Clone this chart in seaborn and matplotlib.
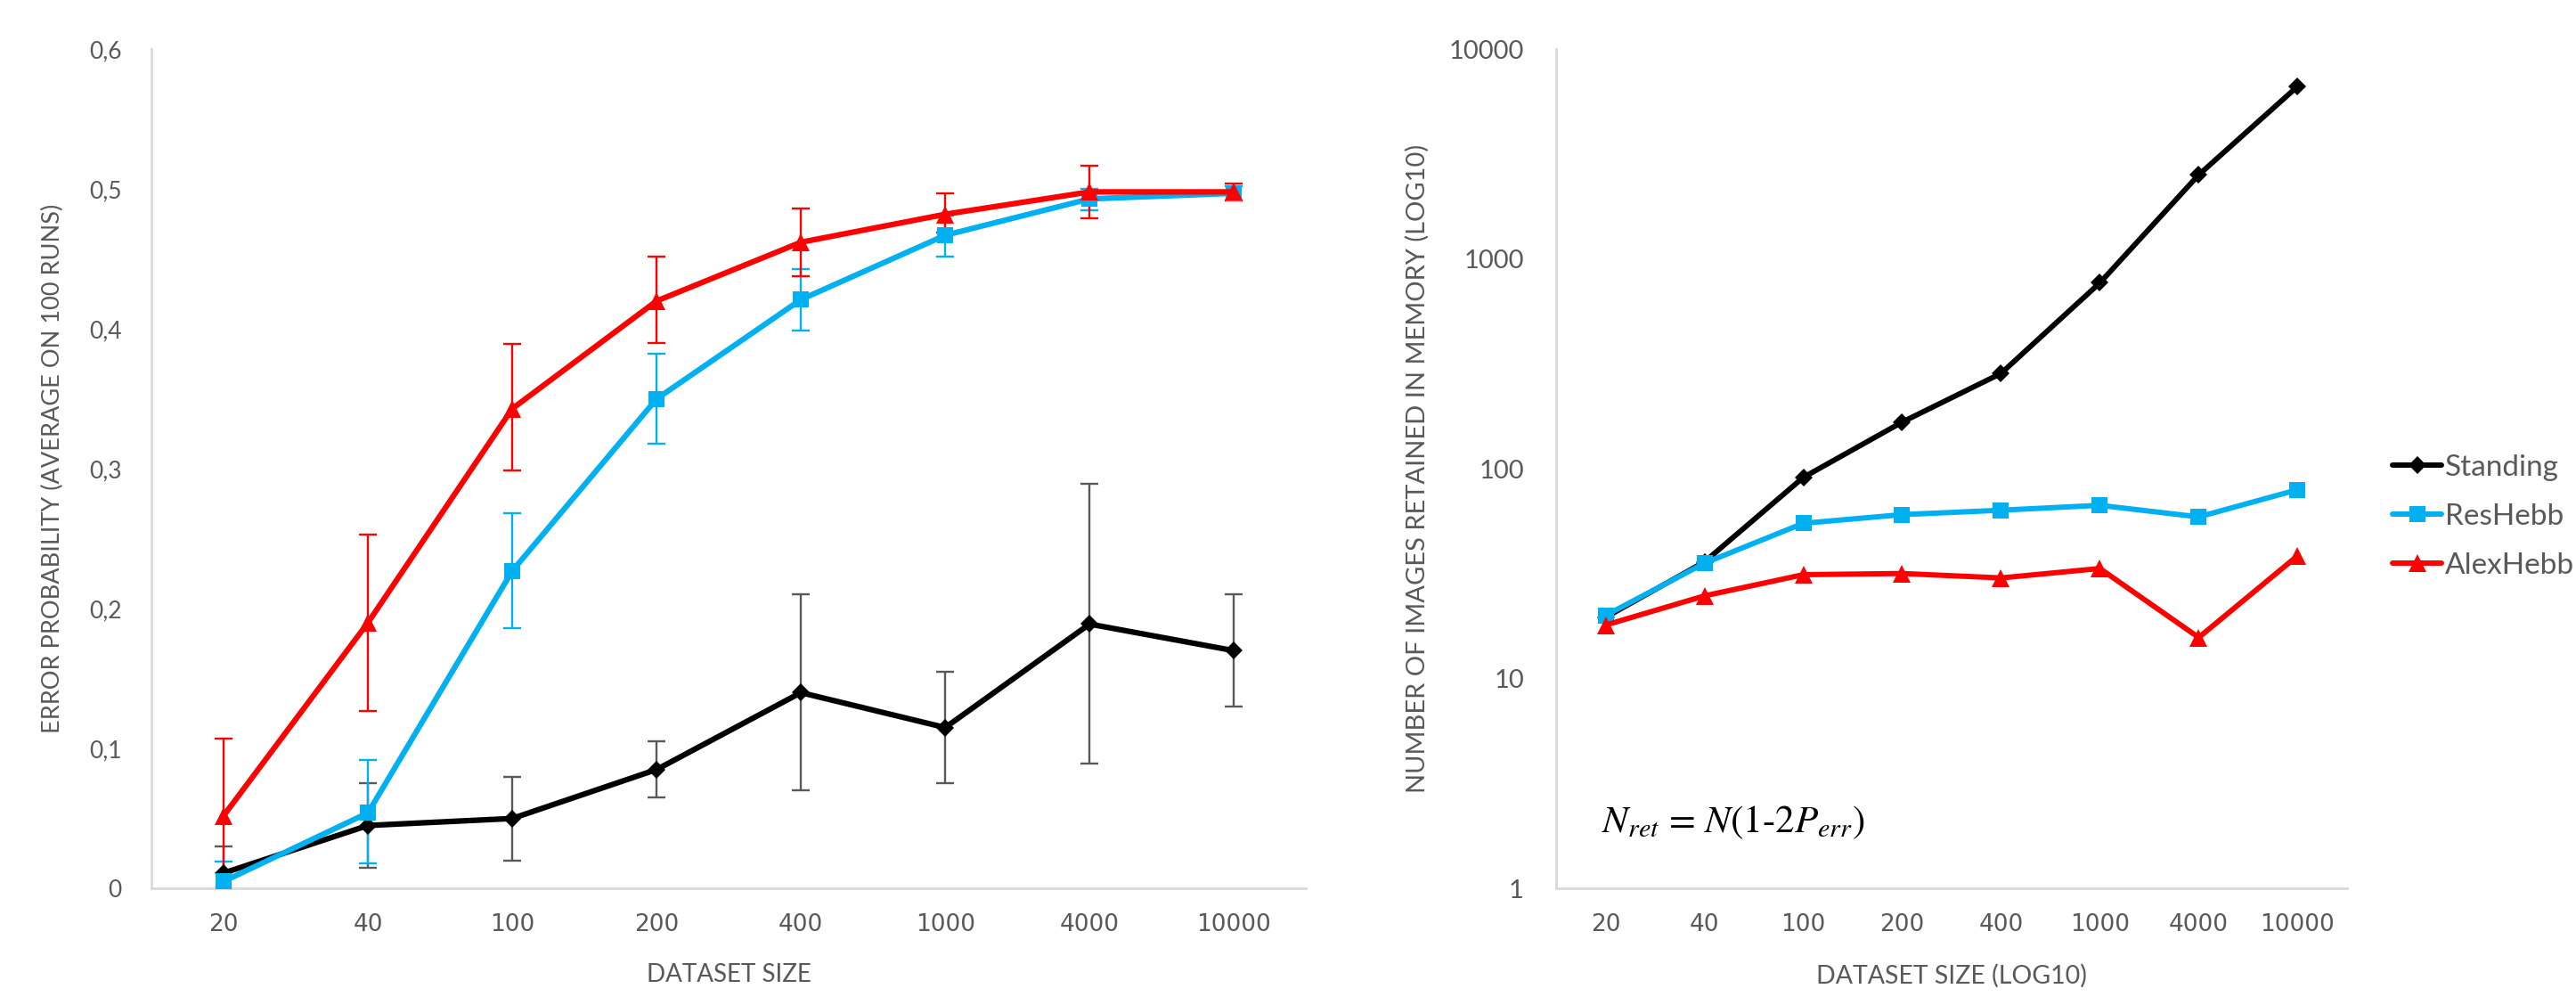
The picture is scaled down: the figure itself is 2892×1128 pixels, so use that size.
import numpy as np
import pandas as pd
import matplotlib
matplotlib.use("Agg")
import matplotlib.pyplot as plt
import seaborn as sns
from matplotlib.ticker import FixedLocator, FuncFormatter, NullLocator

# ---------------- data ----------------
sizes = ["20", "40", "100", "200", "400", "1000", "4000", "10000"]
series_names = ["Standing", "ResHebb", "AlexHebb"]

# Left: error probability (mean, lower, upper of error bars)
standing_err = [0.011, 0.045, 0.050, 0.085, 0.140, 0.115, 0.189, 0.170]
standing_lo = [0.000, 0.015, 0.020, 0.065, 0.070, 0.075, 0.089, 0.130]
standing_hi = [0.030, 0.075, 0.080, 0.105, 0.210, 0.155, 0.289, 0.210]

reshebb_err = [0.005, 0.054, 0.227, 0.350, 0.421, 0.467, 0.493, 0.497]
reshebb_lo = [0.000, 0.018, 0.186, 0.318, 0.399, 0.452, 0.485, 0.492]
reshebb_hi = [0.019, 0.092, 0.268, 0.382, 0.443, 0.481, 0.500, 0.502]

alexhebb_err = [0.052, 0.190, 0.343, 0.420, 0.462, 0.482, 0.498, 0.498]
alexhebb_lo = [0.000, 0.127, 0.299, 0.390, 0.438, 0.469, 0.479, 0.492]
alexhebb_hi = [0.107, 0.253, 0.389, 0.452, 0.486, 0.497, 0.517, 0.504]

# Right: number of images retained in memory
standing_ret = [19.6, 36.0, 91.0, 167.0, 285.0, 770.0, 2520.0, 6650.0]
reshebb_ret = [20.0, 35.5, 55.0, 60.5, 63.5, 67.0, 59.0, 79.5]
alexhebb_ret = [18.0, 24.8, 31.3, 31.7, 30.2, 33.5, 15.7, 38.5]

y_ticks_left = [0.0, 0.1, 0.2, 0.3, 0.4, 0.5, 0.6]
y_ticks_right = [1, 10, 100, 1000, 10000]

# ---------------- styling ----------------
sns.set_theme(style="white")
plt.rcParams["font.family"] = ["Lato", "DejaVu Sans"]
plt.rcParams["mathtext.fontset"] = "stix"

TXT = "#595959"
AXC = "#D9D9D9"
colors = {"Standing": "#000000", "ResHebb": "#00B0F0", "AlexHebb": "#FF0000"}
ecolors = {"Standing": "#595959", "ResHebb": "#00B0F0", "AlexHebb": "#FF0000"}
markers = {"Standing": "D", "ResHebb": "s", "AlexHebb": "^"}
msizes = {"Standing": 10, "ResHebb": 13, "AlexHebb": 14}

pos = np.arange(len(sizes))

left_df = pd.DataFrame({
    "pos": np.tile(pos, 3),
    "value": standing_err + reshebb_err + alexhebb_err,
    "lo": standing_lo + reshebb_lo + alexhebb_lo,
    "hi": standing_hi + reshebb_hi + alexhebb_hi,
    "series": np.repeat(series_names, len(sizes)),
})
right_df = pd.DataFrame({
    "pos": np.tile(pos, 3),
    "value": standing_ret + reshebb_ret + alexhebb_ret,
    "series": np.repeat(series_names, len(sizes)),
})

fig = plt.figure(figsize=(28.92, 11.28), dpi=100)
axL = fig.add_axes([0.0588, 0.116, 0.4482, 0.835])
axR = fig.add_axes([0.6041, 0.116, 0.3070, 0.835])

XTICK_FONT = dict(family=["DejaVu Sans"], size=19)

# ---- left chart ----
for name in series_names:
    d = left_df[left_df["series"] == name]
    axL.errorbar(d["pos"], d["value"],
                 yerr=[d["value"] - d["lo"], d["hi"] - d["value"]],
                 fmt="none", ecolor=ecolors[name], elinewidth=1.7,
                 capsize=7, capthick=1.7, zorder=1)
for name in series_names:
    d = left_df[left_df["series"] == name]
    sns.lineplot(data=d, x="pos", y="value", ax=axL, color=colors[name],
                 marker=markers[name], markersize=msizes[name],
                 markeredgewidth=0, linewidth=4.5, legend=False,
                 clip_on=False, zorder=3)

axL.set_xlim(-0.5, len(sizes) - 0.5)
axL.set_ylim(0, 0.6)
axL.xaxis.set_major_locator(FixedLocator(pos))
axL.set_xticklabels(sizes, fontdict=XTICK_FONT)
axL.yaxis.set_major_locator(FixedLocator(y_ticks_left))
axL.yaxis.set_major_formatter(FuncFormatter(
    lambda v, p: "0" if abs(v) < 1e-9 else f"{v:.1f}".replace(".", ",")))
axL.tick_params(axis="y", length=0, pad=24, labelsize=19, labelcolor=TXT)
axL.tick_params(axis="x", length=0, pad=20, labelcolor=TXT)
axL.set_xlabel("DATASET SIZE", fontsize=20, color=TXT, labelpad=22)
axL.set_ylabel("ERROR PROBABILITY (AVERAGE ON 100 RUNS)", fontsize=19.5,
               color=TXT, labelpad=20)

# ---- right chart ----
for name in series_names:
    d = right_df[right_df["series"] == name]
    sns.lineplot(data=d, x="pos", y="value", ax=axR, color=colors[name],
                 marker=markers[name], markersize=msizes[name],
                 markeredgewidth=0, linewidth=4.3, label=name,
                 clip_on=False, zorder=3)

axR.set_yscale("log")
axR.set_xlim(-0.5, len(sizes) - 0.5)
axR.set_ylim(1, 10000)
axR.xaxis.set_major_locator(FixedLocator(pos))
axR.set_xticklabels(sizes, fontdict=XTICK_FONT)
axR.yaxis.set_major_locator(FixedLocator(y_ticks_right))
axR.yaxis.set_minor_locator(NullLocator())
axR.yaxis.set_major_formatter(FuncFormatter(lambda v, p: f"{int(round(v))}"))
axR.tick_params(axis="y", length=0, pad=26, labelsize=21, labelcolor=TXT)
axR.tick_params(axis="x", length=0, pad=20, labelcolor=TXT)
axR.set_xlabel("DATASET SIZE (LOG10)", fontsize=20.5, color=TXT, labelpad=22)
axR.set_ylabel("NUMBER OF IMAGES RETAINED IN MEMORY (LOG10)", fontsize=21,
               color=TXT, labelpad=16)

axR.text(0.057, 0.078, r"$N_{ret}$ = $N$(1-2$P_{err}$)",
         transform=axR.transAxes, fontsize=31, family="STIXGeneral",
         color="black", ha="left", va="center")

for ax in (axL, axR):
    sns.despine(ax=ax)
    for s in ("left", "bottom"):
        ax.spines[s].set_color(AXC)
        ax.spines[s].set_linewidth(2)
    ax.grid(False)

handles, labels = axR.get_legend_handles_labels()
axR.get_legend().remove()
leg = fig.legend(handles, labels, loc="center left",
                 bbox_to_anchor=(0.9185, 0.486), frameon=False,
                 fontsize=24, handlelength=1.65, handletextpad=0.12,
                 labelspacing=0.75)
for t in leg.get_texts():
    t.set_color(TXT)

fig.savefig("out.png", dpi=100)
